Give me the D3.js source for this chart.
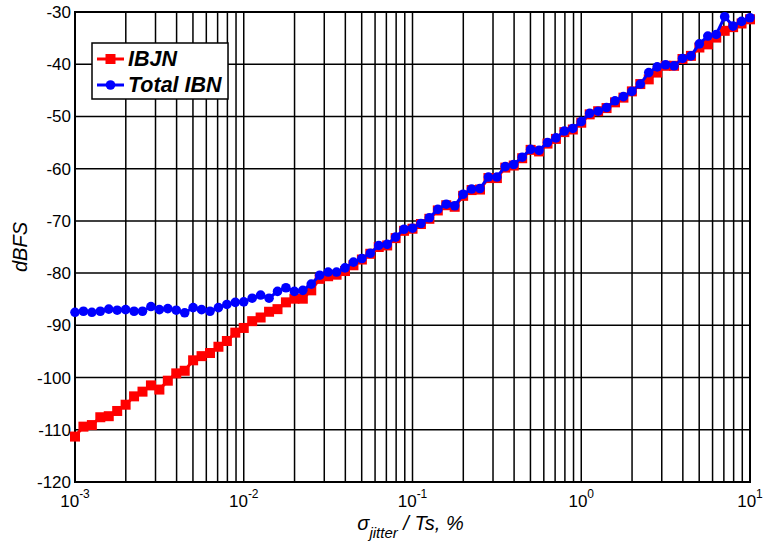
<!DOCTYPE html>
<html>
<head>
<meta charset="utf-8">
<script src="https://cdn.jsdelivr.net/npm/d3@7"></script>
<style>
  html, body { margin: 0; padding: 0; background: #fff; }
  svg { display: block; font-family: "Liberation Sans", Arial, sans-serif; }
</style>
</head>
<body>
<svg id="chart" width="765" height="548"></svg>
<script>
// ---- data ----
const seriesNames = ["IBJN", "Total IBN"];
// x grid: 20 points per decade from 1e-3 to 1e1 (sigma_jitter/Ts, %)
const xExponents = d3.range(0, 81).map(i => -3 + i / 20);
const ibjn = [
  -111.3, -109.4, -109.1, -107.6, -107.4, -106.4, -105.2, -103.6, -102.7, -101.5,
  -102.3, -100.6, -99.2, -98.7, -96.7, -95.9, -95.3, -94.1, -93.0, -91.4,
  -90.5, -89.2, -88.5, -87.4, -86.9, -85.6, -84.9, -84.9, -83.3, -81.1,
  -80.6, -80.3, -79.6, -78.5, -77.4, -76.3, -75.0, -74.7, -73.3, -71.9,
  -71.5, -70.6, -69.6, -68.0, -67.0, -67.3, -65.2, -64.1, -64.0, -61.8,
  -61.8, -59.8, -59.4, -58.0, -56.4, -56.7, -55.2, -54.3, -53.0, -52.5,
  -51.2, -49.6, -49.0, -48.4, -47.3, -46.4, -45.2, -43.8, -42.9, -41.6,
  -40.3, -40.3, -39.0, -38.4, -36.8, -36.2, -34.9, -33.6, -32.9, -32.2,
  -31.4
];
const totalIBN = [
  -87.5, -87.3, -87.5, -87.3, -86.9, -87.1, -87.0, -87.3, -87.3, -86.4,
  -87.0, -86.8, -87.1, -87.6, -86.6, -87.0, -87.3, -86.6, -86.0, -85.6,
  -85.5, -84.8, -84.2, -84.8, -83.5, -82.8, -83.5, -83.3, -82.1, -80.4,
  -79.8, -79.8, -79.0, -77.9, -77.2, -76.2, -74.7, -74.5, -73.1, -71.6,
  -71.4, -70.5, -69.4, -67.8, -66.8, -67.1, -64.9, -63.9, -63.8, -61.6,
  -61.6, -59.6, -59.2, -57.8, -56.3, -56.5, -55.0, -54.1, -52.8, -52.3,
  -51.0, -49.4, -49.0, -48.3, -47.0, -46.2, -45.2, -43.8, -41.6, -40.5,
  -40.1, -40.3, -38.9, -38.4, -36.1, -34.6, -34.3, -30.9, -32.7, -31.8,
  -31.1
];
const yTicks = [-120, -110, -100, -90, -80, -70, -60, -50, -40, -30];
const xTickExps = [-3, -2, -1, 0, 1];
const yLabel = "dBFS";

// ---- layout ----
const svg = d3.select("#chart");
const L = 75, R = 750, T = 12, B = 482;
const x = d3.scaleLog().domain([1e-3, 1e1]).range([L, R]);
const y = d3.scaleLinear().domain([-120, -30]).range([B, T]);

const xs = xExponents.map(e => Math.pow(10, e));
const redData = xs.map((v, i) => [v, ibjn[i]]);
const blueData = xs.map((v, i) => [v, totalIBN[i]]);

// minor/major vertical grid
const vGrid = [];
for (let e = -3; e < 1; e++) for (let m = 1; m <= 9; m++) vGrid.push(m * Math.pow(10, e));
vGrid.push(10);

const grid = svg.append("g");
grid.selectAll("line.v").data(vGrid.filter(v => v > 1e-3 * 1.001 && v < 10 * 0.999)).enter()
  .append("line")
  .attr("x1", d => x(d)).attr("x2", d => x(d))
  .attr("y1", T).attr("y2", B)
  .attr("stroke", "#000").attr("stroke-width", 1.5);
grid.selectAll("line.h").data(yTicks.filter(v => v > -120 && v < -30)).enter()
  .append("line")
  .attr("x1", L).attr("x2", R)
  .attr("y1", d => y(d)).attr("y2", d => y(d))
  .attr("stroke", "#000").attr("stroke-width", 1.5);

// frame
svg.append("rect").attr("x", L).attr("y", T).attr("width", R - L).attr("height", B - T)
  .attr("fill", "none").attr("stroke", "#000").attr("stroke-width", 2);

// y tick labels
svg.append("g").selectAll("text").data(yTicks).enter().append("text")
  .attr("x", L - 4).attr("y", d => y(d) + 6)
  .attr("text-anchor", "end").attr("font-size", 17).attr("fill", "#000")
  .text(d => d);

// x tick labels
const xt = svg.append("g").selectAll("text").data(xTickExps).enter().append("text")
  .attr("x", d => x(Math.pow(10, d))).attr("y", B + 25)
  .attr("text-anchor", "middle").attr("font-size", 17).attr("fill", "#000");
xt.append("tspan").text("10");
xt.append("tspan").attr("dy", -9).attr("font-size", 12).text(d => d);

// axis labels
svg.append("text").attr("transform", `translate(27,${(T + B) / 2}) rotate(-90)`)
  .attr("text-anchor", "middle").attr("font-size", 20).attr("font-style", "italic")
  .text(yLabel);
const xl = svg.append("text").attr("x", (L + R) / 2 - 2).attr("y", 530)
  .attr("text-anchor", "middle").attr("font-size", 20).attr("font-style", "italic");
xl.append("tspan").text("σ");
xl.append("tspan").attr("dy", 8).attr("font-size", 15).text("jitter");
xl.append("tspan").attr("dy", -8).text(" / Ts, %");

// series
const line = d3.line().x(d => x(d[0])).y(d => y(d[1]));
svg.append("path").datum(redData).attr("d", line)
  .attr("fill", "none").attr("stroke", "#ff0000").attr("stroke-width", 3);
svg.append("g").selectAll("rect").data(redData).enter().append("rect")
  .attr("x", d => x(d[0]) - 5).attr("y", d => y(d[1]) - 5)
  .attr("width", 10).attr("height", 10).attr("fill", "#ff0000");
svg.append("path").datum(blueData).attr("d", line)
  .attr("fill", "none").attr("stroke", "#0000ff").attr("stroke-width", 3);
svg.append("g").selectAll("circle").data(blueData).enter().append("circle")
  .attr("cx", d => x(d[0])).attr("cy", d => y(d[1])).attr("r", 4.8)
  .attr("fill", "#0000ff");

// legend
const lg = svg.append("g");
lg.append("rect").attr("x", 92).attr("y", 43).attr("width", 136).attr("height", 56)
  .attr("fill", "#fff").attr("stroke", "#000").attr("stroke-width", 1.5);
const legItems = [
  { name: seriesNames[0], color: "#ff0000", shape: "square", cy: 59 },
  { name: seriesNames[1], color: "#0000ff", shape: "circle", cy: 85 }
];
legItems.forEach(it => {
  lg.append("line").attr("x1", 97).attr("x2", 124).attr("y1", it.cy).attr("y2", it.cy)
    .attr("stroke", it.color).attr("stroke-width", 3);
  if (it.shape === "square") {
    lg.append("rect").attr("x", 105.5).attr("y", it.cy - 5).attr("width", 10).attr("height", 10).attr("fill", it.color);
  } else {
    lg.append("circle").attr("cx", 110.5).attr("cy", it.cy).attr("r", 4.8).attr("fill", it.color);
  }
  lg.append("text").attr("x", 128).attr("y", it.cy + 7)
    .attr("font-size", 21.5).attr("font-weight", "bold").attr("font-style", "italic")
    .text(it.name);
});
</script>
</body>
</html>
